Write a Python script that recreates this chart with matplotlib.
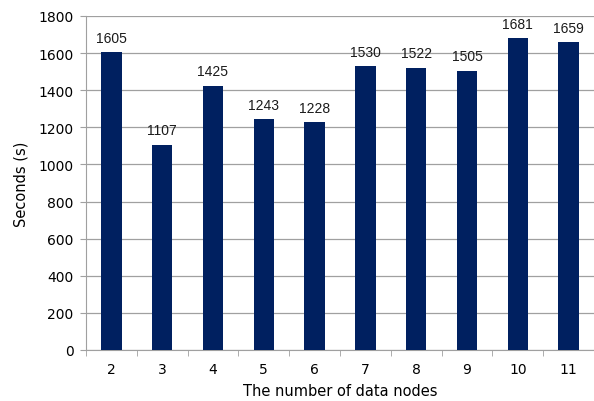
import numpy as np
import matplotlib.pyplot as plt

# Run time per cluster size ----------------------------------------------------
nodes = ['2', '3', '4', '5', '6', '7', '8', '9', '10', '11']
seconds = [1605, 1107, 1425, 1243, 1228, 1530, 1522, 1505, 1681, 1659]

BAR_CLR = '#002060'
GRID_CLR = '#a0a0a0'

fig = plt.figure(figsize=(5.94, 4.02), dpi=100)
ax = fig.add_axes([86/594, 51/402, 508/594, 334/402])
x = np.arange(len(nodes))
ax.bar(x, seconds, width=0.4, color=BAR_CLR, zorder=3)
for (xi, v) in zip(x, seconds):
    ax.text(xi, v + 40, str(v), ha='center', va='bottom', fontsize=10,
            family='Liberation Sans', color='#1a1a1a')

ax.set_xlim(-0.5, len(nodes) - 0.5)
ax.set_ylim(0, 1800)
ax.set_yticks(np.arange(0, 1801, 200))
ax.yaxis.grid(True, color=GRID_CLR, linewidth=0.9, zorder=0)
ax.set_xticks(x)
ax.set_xticklabels(nodes)
ax.set_xticks(np.arange(-0.5, len(nodes)), minor=True)
ax.tick_params(axis='x', which='major', length=0, pad=9, labelsize=10)
ax.tick_params(axis='x', which='minor', length=4, color=GRID_CLR)
ax.tick_params(axis='y', length=4, color=GRID_CLR, labelsize=10, pad=5)
for s in ['top', 'right']:
    ax.spines[s].set_visible(False)
for s in ['left', 'bottom']:
    ax.spines[s].set_color(GRID_CLR)
ax.set_xlabel('The number of data nodes', fontsize=10.5, labelpad=5)
ax.set_ylabel('Seconds (s)', fontsize=10.5, labelpad=7)
plt.savefig('out.png', dpi=100)
